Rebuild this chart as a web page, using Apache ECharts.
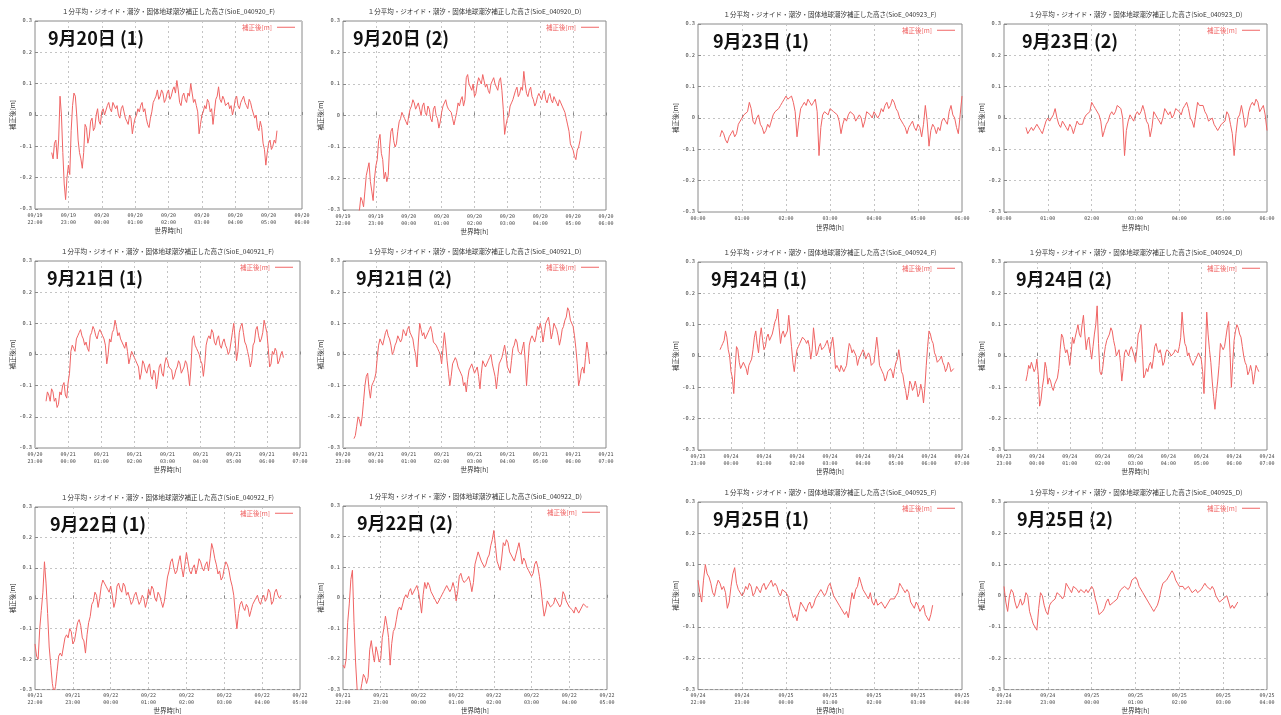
<!DOCTYPE html>
<html>
<head>
<meta charset="utf-8">
<script src="https://cdn.jsdelivr.net/npm/echarts@6/dist/echarts.min.js"></script>
<style>
html, body { margin: 0; padding: 0; background: #fff; }
#chart { width: 1281px; height: 715px; }
</style>
</head>
<body>
<div id="chart"></div>
<script>
// 補正後の高さ [cm], 5分毎の読み取り値 (h...) と その間 2.5分の値 (m...)
const h0920F = [-12,-9,-14,6,-12,-27,-16,-5,7,0,-12,-17,-3,-9,-2,-5,0,-2,1,0,3,2,4,2,0,2,1,-2,0,-6,-1,2,3,1,-1,-4,1,5,8,6,7,5,8,6,9,11,4,6,5,7,10,4,3,-6,0,3,5,1,-3,5,9,4,5,3,2,0,5,3,4,6,3,5,2,-1,-4,-2,-9,-16,-9,-11,-8,-5]
const m0920F = [-14,-8,-8,0,-22,-20,-19,3,6,-8,-14,-12,-4,-7,-1,-4,2,-3,2,0,4,1,4,3,-1,3,-1,-3,-1,-3,0,1,4,2,-3,-1,4,6,5,8,4,7,5,8,7,8,3,7,4,6,7,5,1,-3,1,2,4,2,1,6,5,6,3,4,3,2,6,2,5,4,2,4,2,0,-5,-4,-11,-12,-8,-10,-9]
const h0920D = [-33,-30,-27,-24,-17,-21,-27,-16,-8,-12,-20,-21,-10,-4,-10,-5,-1,0,-2,0,3,4,3,2,3,1,3,-1,2,0,-4,1,4,3,2,-1,-1,4,5,3,12,10,8,6,10,11,13,9,8,10,12,9,11,8,-6,-1,3,5,8,6,9,14,7,8,6,3,6,6,7,5,6,5,6,4,5,3,1,-3,-9,-11,-14,-10,-5]
const m0920D = [-31,-26,-29,-19,-15,-24,-20,-14,-6,-14,-18,-19,-5,-8,-9,-2,1,-1,-3,2,5,2,4,0,4,0,2,-2,3,-1,-2,3,5,2,1,-3,1,3,6,5,13,9,10,7,12,10,11,10,7,11,10,8,12,2,-3,0,4,5,9,7,8,10,6,9,5,4,7,5,8,4,7,4,5,3,4,3,-1,-5,-10,-13,-11,-8]
const h0921F = [-15,-13,-11,-15,-17,-12,-10,-13,-9,1,2,5,7,6,3,2,6,9,6,7,8,5,-3,5,7,11,6,5,3,4,-3,1,-1,-3,-8,-2,-5,-4,-7,-5,-11,-4,-6,-3,-2,-4,-8,-5,-2,-6,-4,-3,-10,5,3,1,-2,-7,3,6,8,4,5,3,4,3,0,4,10,-2,7,10,4,1,-4,3,8,6,5,11,7,-4,1,2,-3,0,-1]
const m0921F = [-12,-15,-12,-14,-16,-13,-9,-14,-6,3,1,6,8,5,4,1,7,8,5,8,6,3,0,4,8,9,7,4,2,1,-1,0,-2,-4,-6,-3,-6,-3,-8,-6,-8,-3,-7,-1,-4,-5,-7,-4,-3,-5,-2,-6,-4,6,2,0,-3,-3,5,5,7,3,6,2,5,2,1,7,5,1,9,7,3,-1,-2,4,9,4,7,9,2,-3,0,1,-2,1]
const h0921D = [-27,-23,-21,-20,-10,-6,-14,-9,-6,3,4,5,8,5,0,3,6,4,8,6,9,7,2,-4,10,6,5,7,9,4,3,1,-3,7,-2,-10,-3,-1,-4,-6,-10,-12,-5,-3,-6,-4,-11,-2,-4,-2,0,-5,-11,-3,-1,3,-4,-6,2,5,1,0,4,-10,3,6,4,9,10,4,10,12,5,10,8,3,8,11,15,11,9,2,-10,-5,-6,4,-3]
const m0921D = [-26,-20,-23,-15,-7,-11,-10,-8,-1,5,3,7,6,3,1,4,6,5,7,8,7,5,0,4,8,7,5,8,7,4,2,0,2,3,-6,-7,-3,-2,-5,-7,-9,-8,-5,-3,-6,-7,-6,-3,-4,-1,-3,-7,-7,-3,1,0,-5,-2,3,4,1,2,-2,-3,5,5,6,8,8,7,10,9,7,9,6,5,9,12,14,11,6,-3,-8,-4,-1,1]
const h0922F = [-15,-20,-4,12,-5,-22,-31,-24,-18,-16,-12,-10,-15,-11,-7,-13,-18,-8,-2,2,-3,4,5,3,4,-3,4,3,5,1,0,-1,2,-2,1,-3,3,4,0,2,-1,-1,7,12,10,9,14,7,15,9,10,8,13,10,11,9,18,13,8,6,10,11,6,1,-10,-2,-3,-2,-6,-2,0,-1,0,-1,3,-2,2,1,1]
const m0922F = [-19,-10,2,5,-16,-28,-29,-19,-19,-13,-13,-11,-14,-8,-9,-14,-12,-6,-1,1,0,6,4,2,1,-1,5,2,4,2,-2,1,0,-1,0,-1,1,3,-1,1,-3,3,9,13,8,12,10,11,12,8,11,10,12,9,12,13,16,11,9,7,12,9,4,-5,-5,-1,-4,-3,-4,-2,1,-2,1,0,2,-1,3,0]
const h0922D = [-22,-20,-2,9,-21,-33,-28,-26,-26,-14,-21,-18,-20,-10,-9,-22,-11,-7,-3,-2,1,2,1,3,2,-5,5,5,2,0,-2,0,2,4,2,5,-1,7,6,5,7,2,11,15,12,10,13,17,22,12,9,18,19,15,13,14,18,11,12,9,7,11,10,3,-6,-1,-3,-2,-1,-3,2,-1,-3,-4,-3,-5,-3,-2,-3]
const m0922D = [-23,-8,6,-8,-30,-31,-25,-28,-17,-18,-16,-21,-13,-6,-13,-15,-10,-4,-4,0,0,3,1,4,-1,1,3,4,2,-1,-2,1,2,4,3,3,2,8,5,6,5,5,13,15,12,11,14,19,17,12,13,17,18,14,12,16,15,13,10,9,8,12,7,-2,-4,-1,-3,0,-1,-2,1,-1,-3,-5,-3,-5,-2,-3]
const h0923F = [-6,-5,-8,-5,-6,-2,0,1,5,-1,0,-2,-5,-2,-1,2,3,5,7,6,5,-6,3,5,6,4,6,-12,1,2,3,2,1,-5,0,1,2,-1,1,-3,2,1,2,0,3,4,3,6,3,0,-2,-5,-2,-3,-2,-6,4,-9,-2,-5,-4,0,-2,4,0,-5,7]
const m0923F = [-4,-7,-6,-4,-5,-2,1,2,3,-2,1,-3,-4,-3,1,2,4,6,6,7,2,-1,4,4,5,5,2,-3,2,1,3,2,-1,-2,-1,2,1,-1,0,-1,2,0,2,1,2,5,4,5,2,0,-3,-3,-1,-4,-3,-2,-1,-4,-3,-3,-1,-1,2,1,-3,1]
const h0923D = [-3,-5,-4,-2,-4,-3,0,-1,3,-2,-1,-3,-2,-5,-1,-2,0,1,5,3,1,-6,-2,1,1,4,3,-12,-1,0,1,1,4,-1,-6,2,0,-2,3,1,0,3,2,3,5,0,-3,5,4,2,-1,0,-3,-4,-2,2,-2,-12,0,4,-3,2,5,6,2,4,-4]
const m0923D = [-5,-3,-4,-2,-5,-1,-1,1,0,-3,-1,-4,-3,-3,-2,-2,1,2,4,3,-1,-4,-1,2,2,4,0,-4,1,-1,2,2,2,-2,-3,1,0,0,3,2,1,3,1,4,3,-1,1,4,4,1,-1,-2,-4,-2,-1,1,-5,-5,1,1,-2,4,4,5,2,1]
const h0924F = [2,4,8,2,-5,-12,3,-2,-4,-2,-6,-2,2,8,1,9,2,6,5,7,11,15,4,8,6,13,3,-5,2,4,6,5,5,-1,9,0,3,2,3,5,1,6,-4,-4,-3,-5,-3,4,1,2,-3,0,2,-1,1,-3,-2,6,-3,-5,-8,-5,-4,-7,-2,2,-5,-9,-14,-8,-11,-8,-13,-9,-15,-3,8,5,1,-2,-1,-2,-5,-2,-5,-4]
const m0924F = [3,5,6,0,-7,-4,2,-4,-2,-4,-3,-1,6,4,6,5,3,7,5,9,12,9,7,6,8,8,-2,-1,3,4,6,4,3,2,5,1,4,2,4,3,4,2,-3,-5,-3,-4,1,3,2,0,-1,1,1,-1,0,-3,2,2,-4,-6,-7,-5,-5,-4,-1,-1,-6,-11,-12,-9,-10,-10,-12,-11,-10,3,7,4,0,-2,0,-3,-4,-3,-5]
const h0924D = [-8,-3,-2,-5,-1,-16,-10,-2,-9,-8,-11,-8,-4,7,3,2,-3,6,6,10,6,13,2,6,-1,7,16,-5,-4,3,6,9,5,0,2,-8,1,1,2,3,-2,7,10,-7,-4,-3,-4,3,2,2,-3,1,2,0,1,2,3,14,4,0,-1,-3,-1,1,-1,-12,14,2,-8,-17,-8,4,2,6,11,-10,5,10,7,3,-2,-6,-3,-9,-3,-5]
const m0924D = [-6,-4,-2,-4,-6,-14,-7,-4,-7,-10,-9,-7,2,6,1,0,1,4,8,7,10,7,5,2,3,10,4,-6,0,5,7,8,3,0,-2,-4,2,0,3,0,2,8,2,-6,-5,-2,-1,4,1,0,-2,2,1,0,2,1,6,8,3,1,-2,-3,0,1,-5,0,7,-2,-13,-12,-3,4,3,9,1,-2,8,9,6,0,-3,-5,-5,-6,-4]
const h0925F = [5,-2,10,6,1,3,4,3,-4,3,9,2,0,3,4,0,3,1,4,3,5,4,1,2,1,-3,-7,-8,-2,-4,-3,-4,-1,1,2,1,4,0,-2,-4,-6,-7,1,2,6,2,0,1,-3,-3,-2,-4,-2,-1,0,4,2,2,-2,-4,-3,-4,-6,-8,-3]
const m0925F = [1,5,7,4,0,5,2,1,-2,7,4,2,1,2,3,1,2,3,2,4,3,3,0,2,0,-5,-6,-5,-2,-5,-2,-3,-1,2,0,3,2,0,-3,-4,-5,-3,-1,3,4,2,-1,-2,-1,-3,-2,-4,-1,-1,1,3,1,1,-3,-2,-5,-3,-7,-6]
const h0925D = [3,-5,2,-2,-3,-3,1,-5,-9,-11,1,-3,-6,-2,-1,1,-1,4,2,3,2,2,1,1,3,-1,-6,-5,-2,-3,-2,-1,2,3,2,5,6,3,1,-1,-3,-5,-3,2,4,6,8,5,3,3,2,2,1,1,2,4,3,3,0,-2,-1,0,-4,-4,-2]
const m0925D = [-2,0,1,-4,-1,-2,0,-7,-10,-4,0,-5,-3,-2,1,0,0,3,1,3,1,2,2,1,2,-3,-6,-4,-1,-3,-2,1,2,3,3,5,5,3,1,-2,-4,-4,-1,4,5,6,7,4,3,2,3,1,2,1,3,3,2,2,-1,-2,-1,-2,-3,-4]

// 目盛ラベル
const ticks0920 = ['09/19\n22:00','09/19\n23:00','09/20\n00:00','09/20\n01:00','09/20\n02:00','09/20\n03:00','09/20\n04:00','09/20\n05:00','09/20\n06:00']
const ticks0921 = ['09/20\n23:00','09/21\n00:00','09/21\n01:00','09/21\n02:00','09/21\n03:00','09/21\n04:00','09/21\n05:00','09/21\n06:00','09/21\n07:00']
const ticks0922 = ['09/21\n22:00','09/21\n23:00','09/22\n00:00','09/22\n01:00','09/22\n02:00','09/22\n03:00','09/22\n04:00','09/22\n05:00']
const ticks0923 = ['00:00','01:00','02:00','03:00','04:00','05:00','06:00']
const ticks0924 = ['09/23\n23:00','09/24\n00:00','09/24\n01:00','09/24\n02:00','09/24\n03:00','09/24\n04:00','09/24\n05:00','09/24\n06:00','09/24\n07:00']
const ticks0925 = ['09/24\n22:00','09/24\n23:00','09/25\n00:00','09/25\n01:00','09/25\n02:00','09/25\n03:00','09/25\n04:00']
const yTicks = [-0.3, -0.2, -0.1, 0, 0.1, 0.2, 0.3]

// サンプル間隔 [h]
const STEP_H = 5 / 60

const SERIES_NAME = '補正後[m]'
const LINE = '#f06464'
const CJK = '"Noto Sans CJK JP", "Noto Sans CJK SC", sans-serif'
const MONO = '"DejaVu Sans Mono", monospace'

// 各パネル: データ, 開始 (最初の目盛からの時間 [h]), 目盛, 位置 [left, top, width, height]
const panels = [
    { id: '040920_F', label: '9月20日 (1)', data: h0920F, mid: m0920F, start: 0.5, ticks: ticks0920, box: [35, 21, 267, 188], lab: 13 },
    { id: '040920_D', label: '9月20日 (2)', data: h0920D, mid: m0920D, start: 25 / 60, ticks: ticks0920, box: [343, 21, 263, 189], lab: 10 },
    { id: '040921_F', label: '9月21日 (1)', data: h0921F, mid: m0921F, start: 20 / 60, ticks: ticks0921, box: [35, 261, 265, 187], lab: 12 },
    { id: '040921_D', label: '9月21日 (2)', data: h0921D, mid: m0921D, start: 20 / 60, ticks: ticks0921, box: [343, 261, 263, 187], lab: 13 },
    { id: '040922_F', label: '9月22日 (1)', data: h0922F, mid: m0922F, start: 0, ticks: ticks0922, box: [35, 507, 265, 188], lab: 15 },
    { id: '040922_D', label: '9月22日 (2)', data: h0922D, mid: m0922D, start: 0, ticks: ticks0922, box: [343, 506, 264, 188], lab: 14 },
    { id: '040923_F', label: '9月23日 (1)', data: h0923F, mid: m0923F, start: 0.5, ticks: ticks0923, box: [698, 24, 264, 188], lab: 15 },
    { id: '040923_D', label: '9月23日 (2)', data: h0923D, mid: m0923D, start: 0.5, ticks: ticks0923, box: [1004, 24, 263, 188], lab: 18 },
    { id: '040924_F', label: '9月24日 (1)', data: h0924F, mid: m0924F, start: 40 / 60, ticks: ticks0924, box: [698, 262, 264, 188], lab: 13 },
    { id: '040924_D', label: '9月24日 (2)', data: h0924D, mid: m0924D, start: 40 / 60, ticks: ticks0924, box: [1004, 262, 263, 188], lab: 12 },
    { id: '040925_F', label: '9月25日 (1)', data: h0925F, mid: m0925F, start: 0, ticks: ticks0925, box: [698, 502, 264, 188], lab: 15 },
    { id: '040925_D', label: '9月25日 (2)', data: h0925D, mid: m0925D, start: 0, ticks: ticks0925, box: [1004, 502, 263, 188], lab: 13 }
]

const myChart = echarts.init(document.getElementById('chart'))

const grid = []
const xAxis = []
const yAxis = []
const series = []
const legend = []
const graphic = []

panels.forEach((p, i) => {
    const [l, t, w, h] = p.box
    // 5分値と間の値を交互に並べる
    const points = []
    p.data.forEach((v, k) => {
        points.push([p.start + k * STEP_H, v / 100])
        if (k < p.mid.length) points.push([p.start + (k + 0.5) * STEP_H, p.mid[k] / 100])
    })

    grid.push({
        left: l, top: t, width: w, height: h,
        show: true, borderColor: '#8a8a8a', borderWidth: 1, backgroundColor: '#fff'
    })
    xAxis.push({
        gridIndex: i,
        type: 'value',
        min: 0,
        max: p.ticks.length - 1,
        interval: 1,
        name: '世界時[h]',
        nameLocation: 'middle',
        nameGap: 12,
        nameTextStyle: { fontSize: 6.5, color: '#333', fontFamily: CJK },
        axisLine: { show: false },
        axisTick: { inside: true, length: 3, lineStyle: { color: '#8a8a8a' } },
        axisLabel: {
            formatter: v => p.ticks[Math.round(v)] || '',
            fontSize: 5,
            lineHeight: 7,
            margin: 3,
            color: '#444',
            fontFamily: MONO,
            showMinLabel: true,
            showMaxLabel: true,
            hideOverlap: false
        },
        splitLine: { show: true, lineStyle: { type: [2, 3], color: '#c4c4c4', width: 1 } }
    })
    yAxis.push({
        gridIndex: i,
        type: 'value',
        min: yTicks[0],
        max: yTicks[yTicks.length - 1],
        interval: 0.1,
        name: SERIES_NAME,
        nameLocation: 'middle',
        nameGap: 19,
        nameTextStyle: { fontSize: 6.5, color: '#333', fontFamily: CJK },
        axisLine: { show: false },
        axisTick: { inside: true, length: 3, lineStyle: { color: '#8a8a8a' } },
        axisLabel: {
            formatter: v => Math.abs(v) < 1e-9 ? '0' : v.toFixed(1),
            fontSize: 5.3,
            margin: 3,
            color: '#444',
            fontFamily: MONO
        },
        splitLine: { show: true, lineStyle: { type: [2, 3], color: '#c4c4c4', width: 1 } }
    })
    series.push({
        type: 'line',
        name: SERIES_NAME,
        xAxisIndex: i,
        yAxisIndex: i,
        data: points,
        showSymbol: false,
        clip: true,
        silent: true,
        lineStyle: { width: 1, color: LINE },
        itemStyle: { color: LINE }
    })
    legend.push({
        data: [SERIES_NAME],
        right: 1281 - (l + w - 7),
        top: t + 3,
        align: 'right',
        padding: 0,
        itemGap: 0,
        itemWidth: 18,
        itemHeight: 1,
        icon: 'rect',
        selectedMode: false,
        textStyle: { fontSize: 6.5, color: LINE, fontFamily: CJK, padding: [0, 0, 0, 0] }
    })
    // グラフ上のタイトル
    graphic.push({
        type: 'text',
        x: l + w / 2,
        y: t - 9.5,
        silent: true,
        style: {
            text: '１分平均・ジオイド・潮汐・固体地球潮汐補正した高さ(SioE_' + p.id + ')',
            font: '6.5px ' + CJK,
            fill: '#333',
            textAlign: 'center', textVerticalAlign: 'middle',
            align: 'center', verticalAlign: 'middle'
        }
    })
    // 日付ラベル
    graphic.push({
        type: 'text',
        x: l + p.lab,
        y: t + 17,
        silent: true,
        style: {
            text: p.label,
            font: 'bold 18px ' + CJK,
            fill: '#111',
            textAlign: 'left', textVerticalAlign: 'middle',
            align: 'left', verticalAlign: 'middle'
        }
    })
})

myChart.setOption({
    animation: false,
    backgroundColor: '#fff',
    grid: grid,
    xAxis: xAxis,
    yAxis: yAxis,
    legend: legend,
    series: series,
    graphic: graphic
})
</script>
</body>
</html>
